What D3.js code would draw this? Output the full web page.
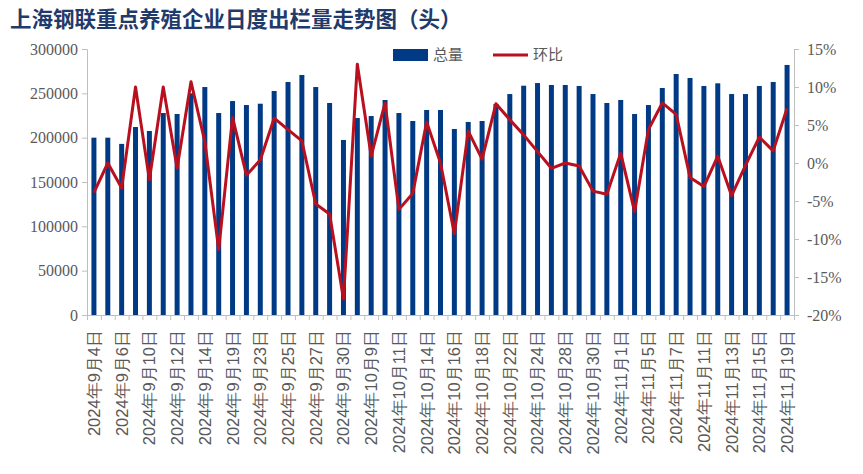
<!DOCTYPE html>
<html><head><meta charset="utf-8">
<script src="https://cdn.jsdelivr.net/npm/d3@7/dist/d3.min.js"></script>
<style>
body{margin:0;background:#fff;}
svg{display:block;}
</style></head>
<body>
<svg id="chart" width="863" height="474"></svg>
<script>
const categories = ["2024年9月4日","2024年9月5日","2024年9月6日","2024年9月9日","2024年9月10日","2024年9月11日","2024年9月12日","2024年9月13日","2024年9月14日","2024年9月18日","2024年9月19日","2024年9月20日","2024年9月23日","2024年9月24日","2024年9月25日","2024年9月26日","2024年9月27日","2024年9月29日","2024年9月30日","2024年10月8日","2024年10月9日","2024年10月10日","2024年10月11日","2024年10月12日","2024年10月14日","2024年10月15日","2024年10月16日","2024年10月17日","2024年10月18日","2024年10月21日","2024年10月22日","2024年10月23日","2024年10月24日","2024年10月25日","2024年10月28日","2024年10月29日","2024年10月30日","2024年10月31日","2024年11月1日","2024年11月4日","2024年11月5日","2024年11月6日","2024年11月7日","2024年11月8日","2024年11月11日","2024年11月12日","2024年11月13日","2024年11月14日","2024年11月15日","2024年11月18日","2024年11月19日"];
const totalVolume = [200000,200000,193000,212000,207500,227800,226700,250000,257100,227800,241300,236800,238300,252600,262800,270700,257100,239100,197400,222200,224400,242500,227800,218800,231200,231200,209800,217700,218800,238000,249200,258600,261600,259400,259400,258300,249200,239100,242500,226700,236800,256000,271800,267300,258300,261300,249200,249200,258300,262800,282000];
const momChange = [-3.9,0.0,-3.3,10.0,-2.2,10.0,-0.7,10.7,2.8,-11.4,6.0,-1.6,0.4,5.9,4.4,2.9,-5.4,-6.7,-17.9,13.0,0.9,7.9,-6.1,-4.0,5.4,0.0,-9.3,4.2,0.5,7.8,5.7,3.7,1.5,-0.7,0.0,-0.4,-3.7,-4.1,1.3,-6.4,4.4,7.9,6.4,-1.9,-3.1,0.9,-4.3,-0.3,3.4,1.6,7.2];
const leftTicks = [0,50000,100000,150000,200000,250000,300000];
const rightTicks = [-20,-15,-10,-5,0,5,10,15];
const title = "上海钢联重点养殖企业日度出栏量走势图（头）";
const seriesNames = ["总量","环比"];

const svg = d3.select("#chart");
const X0 = 87, X1 = 794, Y0 = 49, Y1 = 315;
const axisColor = "#bfbfbf", textColor = "#595959";
const barColor = "#003a84", lineColor = "#b8101f";

const x = d3.scaleBand().domain(d3.range(categories.length)).range([X0, X1]).paddingInner(0.64).paddingOuter(0.32);
const yL = d3.scaleLinear().domain([0, 300000]).range([Y1, Y0]);
const yR = d3.scaleLinear().domain([-20, 15]).range([Y1, Y0]);

// title
svg.append("text").attr("x", 10).attr("y", 27)
  .attr("font-family", "'Noto Sans CJK SC'").attr("font-weight", 700)
  .attr("font-size", 21.5).attr("fill", "#1f3a6b").text(title);

// bars
svg.append("g").selectAll("rect").data(totalVolume).join("rect")
  .attr("x", (d, i) => x(i)).attr("width", x.bandwidth())
  .attr("y", d => yL(d)).attr("height", d => yL(0) - yL(d))
  .attr("fill", barColor);

// left axis
const gL = svg.append("g").attr("transform", `translate(${X0},0)`)
  .call(d3.axisLeft(yL).tickValues(leftTicks).tickSize(5).tickPadding(4).tickFormat(d3.format("d")));
// right axis
const gR = svg.append("g").attr("transform", `translate(${X1},0)`)
  .call(d3.axisRight(yR).tickValues(rightTicks).tickSize(5).tickPadding(8).tickFormat(d => d + "%"));
[gL, gR].forEach(g => {
  g.select(".domain").attr("stroke", axisColor);
  g.selectAll(".tick line").attr("stroke", axisColor);
  g.selectAll(".tick text").attr("fill", textColor).attr("font-family", "'Liberation Serif'").attr("font-size", 16);
});

// x axis ticks between categories
const tickScale = d3.scaleLinear().domain([0, categories.length]).range([X0, X1]);
const gX = svg.append("g").attr("transform", `translate(0,${Y1})`)
  .call(d3.axisBottom(tickScale).tickValues(d3.range(categories.length + 1)).tickSize(5).tickFormat(""));
gX.select(".domain").attr("stroke", axisColor);
gX.selectAll(".tick line").attr("stroke", axisColor);

// x labels
const xAxis = d3.axisBottom(x).tickSize(0).tickFormat(i => i % 2 === 0 ? categories[i] : "");
const gXL = svg.append("g").attr("transform", `translate(0,${Y1})`).call(xAxis);
gXL.select(".domain").remove();
gXL.selectAll(".tick text")
  .attr("font-family", "'Liberation Sans'").attr("font-size", 16.5).attr("fill", textColor)
  .attr("text-anchor", "end").attr("transform", "rotate(-90)")
  .attr("x", -15).attr("y", 0).attr("dy", "0.36em");

// line
const line = d3.line().x((d, i) => x(i) + x.bandwidth() / 2).y(d => yR(d));
svg.append("path").datum(momChange).attr("d", line)
  .attr("fill", "none").attr("stroke", lineColor).attr("stroke-width", 3).attr("stroke-linejoin", "round");

// legend
const lg = svg.append("g");
lg.append("rect").attr("x", 393).attr("y", 49).attr("width", 35).attr("height", 12).attr("fill", barColor);
lg.append("text").attr("x", 433).attr("y", 60).attr("font-family", "'Noto Sans CJK SC'").attr("font-size", 15).attr("fill", textColor).text(seriesNames[0]);
lg.append("line").attr("x1", 493).attr("x2", 528).attr("y1", 55).attr("y2", 55).attr("stroke", lineColor).attr("stroke-width", 3);
lg.append("text").attr("x", 533).attr("y", 60).attr("font-family", "'Noto Sans CJK SC'").attr("font-size", 15).attr("fill", textColor).text(seriesNames[1]);
</script>
</body></html>
